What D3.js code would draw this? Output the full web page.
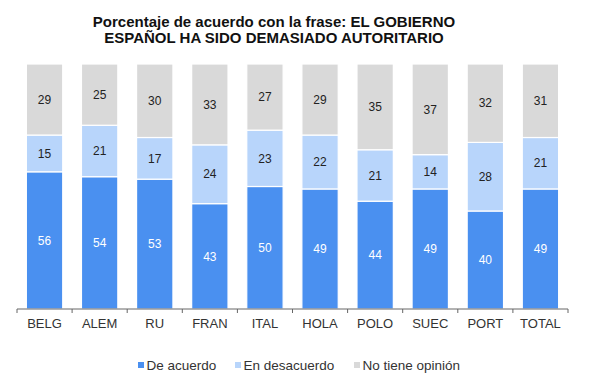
<!DOCTYPE html>
<html>
<head>
<meta charset="utf-8">
<script src="https://cdn.jsdelivr.net/npm/d3@7"></script>
<style>
  body { margin: 0; background: #fff; }
  svg { display: block; font-family: "Liberation Sans", Arial, sans-serif; }
</style>
</head>
<body>
<svg id="chart" width="591" height="384"></svg>
<script>
// Datos
const paises = ["BELG", "ALEM", "RU", "FRAN", "ITAL", "HOLA", "POLO", "SUEC", "PORT", "TOTAL"];
const deAcuerdo = [56, 54, 53, 43, 50, 49, 44, 49, 40, 49];
const enDesacuerdo = [15, 21, 17, 24, 23, 22, 21, 14, 28, 21];
const noOpinion = [29, 25, 30, 33, 27, 29, 35, 37, 32, 31];
const series = ["De acuerdo", "En desacuerdo", "No tiene opinión"];
const titulo = ["Porcentaje de acuerdo con la frase: EL GOBIERNO",
                "ESPAÑOL HA SIDO DEMASIADO AUTORITARIO"];

const colores = ["#4a90f0", "#b8d5fb", "#d9d9d9"];
const colorTexto = ["#ffffff", "#222222", "#222222"];

const svg = d3.select("#chart");

//Area del grafico
const x0 = 17, x1 = 568, yTop = 64, yBase = 309;

const tabla = paises.map((p, i) => ({
    pais: p,
    "De acuerdo": deAcuerdo[i],
    "En desacuerdo": enDesacuerdo[i],
    "No tiene opinión": noOpinion[i]
}));

const x = d3.scaleBand()
    .domain(paises)
    .range([x0, x1])
    .paddingInner(0.34)
    .paddingOuter(0.17);

const y = d3.scaleLinear()
    .domain([0, 100])
    .range([yBase, yTop]);

const apilado = d3.stack().keys(series)(tabla);

//Titulo
svg.append("g")
    .selectAll("text")
    .data(titulo)
    .enter()
    .append("text")
    .attr("x", 274)
    .attr("y", (d, i) => 26.5 + i * 16.5)
    .attr("text-anchor", "middle")
    .attr("font-size", "15px")
    .attr("font-weight", "bold")
    .attr("fill", "#111")
    .text(d => d);

//Barras
const capas = svg.append("g")
    .selectAll("g")
    .data(apilado)
    .enter()
    .append("g")
    .attr("fill", (d, i) => colores[i]);

capas.selectAll("rect")
    .data(d => d)
    .enter()
    .append("rect")
    .attr("x", d => x(d.data.pais))
    .attr("y", d => y(Math.min(d[1], 100)))
    .attr("width", x.bandwidth())
    .attr("height", d => y(d[0]) - y(Math.min(d[1], 100)))
    .attr("stroke", "#fff")
    .attr("stroke-width", 1.2);

//Etiquetas de valores
capas.each(function (serie, si) {
    d3.select(this).selectAll("text")
        .data(serie)
        .enter()
        .append("text")
        .attr("x", d => x(d.data.pais) + x.bandwidth() / 2)
        .attr("y", d => (y(d[0]) + y(Math.min(d[1], 100))) / 2)
        .attr("dy", "0.35em")
        .attr("text-anchor", "middle")
        .attr("font-size", "12px")
        .attr("fill", colorTexto[si])
        .text(d => d[1] - d[0]);
});

//Eje X
const ejeX = svg.append("g")
    .attr("transform", `translate(0,${yBase})`);

ejeX.append("line")
    .attr("x1", x0).attr("x2", x1)
    .attr("stroke", "#666");

ejeX.selectAll(".tick-line")
    .data(d3.range(paises.length + 1))
    .enter()
    .append("line")
    .attr("class", "tick-line")
    .attr("x1", i => x0 + i * (x1 - x0) / paises.length)
    .attr("x2", i => x0 + i * (x1 - x0) / paises.length)
    .attr("y1", 0).attr("y2", 4)
    .attr("stroke", "#666");

ejeX.selectAll(".lbl")
    .data(paises)
    .enter()
    .append("text")
    .attr("class", "lbl")
    .attr("x", d => x(d) + x.bandwidth() / 2)
    .attr("y", 19)
    .attr("text-anchor", "middle")
    .attr("font-size", "13px")
    .attr("fill", "#333")
    .text(d => d);

//Leyenda
const posLeyenda = [138, 235, 354];
const leyenda = svg.append("g")
    .selectAll("g")
    .data(series)
    .enter()
    .append("g")
    .attr("transform", (d, i) => `translate(${posLeyenda[i]},365)`);

leyenda.append("rect")
    .attr("x", 0).attr("y", -3)
    .attr("width", 6).attr("height", 6)
    .attr("fill", (d, i) => colores[i]);

leyenda.append("text")
    .attr("x", 8.5)
    .attr("dy", "0.35em")
    .attr("font-size", "13.5px")
    .attr("fill", "#333")
    .text(d => d);
</script>
</body>
</html>
